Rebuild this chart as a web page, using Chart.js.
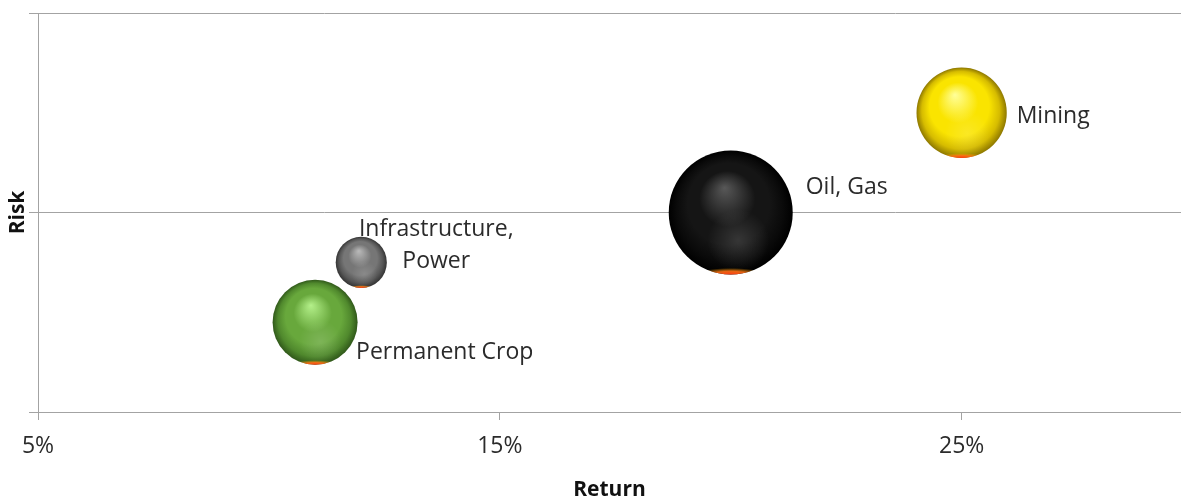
<!DOCTYPE html>
<html>
<head>
<meta charset="utf-8">
<title>Risk vs Return</title>
<script src="https://cdn.jsdelivr.net/npm/chart.js@4/dist/chart.umd.min.js"></script>
<style>
  html, body { margin: 0; padding: 0; background: #ffffff; }
  #wrap { position: relative; width: 1181px; height: 500px; }
</style>
</head>
<body>
<div id="wrap"><canvas id="chart"></canvas></div>
<script>
// Sectors plotted by expected return (x) against risk (y); bubble area ~ size
const categories = ['Mining', 'Oil, Gas', 'Infrastructure, Power', 'Permanent Crop'];
const labelLines = [['Mining'], ['Oil, Gas'], ['Infrastructure,', 'Power'], ['Permanent Crop']];
const returns = [25, 20, 12, 11];          // %
const risks = [15, 10, 7.5, 4.5];          // relative risk
const sizes = [53, 100, 17, 47];           // relative bubble area
const xTicks = [5, 15, 25];                // % tick values on the Return axis

// Sphere palettes: highlight, body, shade, rim
const palettes = [
  { hi: '#ffff9a', body: '#fae400', shade: '#d6bc00', rim: '#8e7800', hx: -0.15, hy: -0.4 },
  { hi: '#585858', body: '#151515', shade: '#0a0a0a', rim: '#000000', hx: -0.1, hy: -0.4 },
  { hi: '#bababa', body: '#767676', shade: '#565656', rim: '#343434', hx: -0.1, hy: -0.45 },
  { hi: '#b4f08a', body: '#68a83c', shade: '#50892d', rim: '#30581a', hx: -0.1, hy: -0.4 }
];

const MAX_RADIUS = 62;
const maxSize = Math.max(...sizes);
const points = returns.map((x, i) => ({
  x: x,
  y: risks[i],
  r: MAX_RADIUS * Math.sqrt(sizes[i] / maxSize)
}));

// Label placement next to each bubble (pixel offsets from bubble centre)
const labelPlacement = [
  { dx: 55, dy: 4, align: 'left' },
  { dx: 75, dy: -25, align: 'left' },
  { dx: 75, dy: -33, align: 'center' },
  { dx: 41, dy: 30, align: 'left' }
];

const GRID = '#a3a3a3';
const TEXT = '#2b2b2b';

function sphereGradient(context) {
  const chart = context.chart;
  const i = context.dataIndex;
  const p = palettes[i] || palettes[0];
  const raw = context.raw;
  if (!chart.scales || !chart.scales.x || !chart.scales.y || !raw) return p.body;
  const x = chart.scales.x.getPixelForValue(raw.x);
  const y = chart.scales.y.getPixelForValue(raw.y);
  const r = raw.r;
  if (![x, y, r].every(Number.isFinite)) return p.body;
  const g = chart.ctx.createRadialGradient(x + p.hx * r, y + p.hy * r, 0, x, y, r);
  g.addColorStop(0, p.hi);
  g.addColorStop(0.45, p.body);
  g.addColorStop(0.66, p.body);
  g.addColorStop(0.86, p.shade);
  g.addColorStop(1, p.rim);
  return g;
}

// Secondary soft reflection and the warm glow along the bottom of each sphere
const sphereLighting = {
  id: 'sphereLighting',
  afterDatasetsDraw(chart) {
    const ctx = chart.ctx;
    const meta = chart.getDatasetMeta(0);
    meta.data.forEach((el) => {
      const x = el.x, y = el.y, r = el.options.radius;
      if (![x, y, r].every(Number.isFinite)) return;
      ctx.save();
      ctx.beginPath();
      ctx.arc(x, y, r, 0, Math.PI * 2);
      ctx.clip();
      const g2 = ctx.createRadialGradient(x + 0.12 * r, y + 0.45 * r, 0, x + 0.12 * r, y + 0.45 * r, 0.5 * r);
      g2.addColorStop(0, 'rgba(255,255,255,0.14)');
      g2.addColorStop(1, 'rgba(255,255,255,0)');
      ctx.fillStyle = g2;
      ctx.fillRect(x - r, y - r, 2 * r, 2 * r);
      ctx.translate(x, y + r);
      ctx.scale(1, 0.19);
      const g3 = ctx.createRadialGradient(0, 0, 0, 0, 0, 0.55 * r);
      g3.addColorStop(0, 'rgba(255,60,20,1)');
      g3.addColorStop(0.5, 'rgba(255,110,20,0.9)');
      g3.addColorStop(1, 'rgba(255,170,0,0)');
      ctx.fillStyle = g3;
      ctx.fillRect(-r, -r, 2 * r, 2 * r);
      ctx.restore();
    });
  }
};

// Category names beside the bubbles
const bubbleLabels = {
  id: 'bubbleLabels',
  afterDatasetsDraw(chart) {
    const ctx = chart.ctx;
    const meta = chart.getDatasetMeta(0);
    ctx.save();
    ctx.font = '23px "Open Sans"';
    ctx.fillStyle = TEXT;
    ctx.textBaseline = 'middle';
    meta.data.forEach((el, i) => {
      const pl = labelPlacement[i];
      ctx.textAlign = pl.align;
      labelLines[i].forEach((line, k) => {
        ctx.fillText(line, el.x + pl.dx, el.y + pl.dy + k * 32);
      });
    });
    ctx.restore();
  }
};

new Chart(document.getElementById('chart'), {
  type: 'bubble',
  data: {
    datasets: [{
      label: 'Sectors',
      data: points,
      backgroundColor: sphereGradient,
      borderWidth: 0,
      hoverBorderWidth: 0,
      clip: false
    }]
  },
  options: {
    responsive: true,
    maintainAspectRatio: false,
    animation: false,
    events: [],
    layout: { autoPadding: false, padding: { top: 13, left: 0, right: 0, bottom: 0 } },
    plugins: {
      legend: { display: false },
      tooltip: { enabled: false }
    },
    scales: {
      x: {
        type: 'linear',
        position: 'bottom',
        min: 5,
        max: 29.75,
        afterBuildTicks(scale) {
          scale.ticks = xTicks.map(v => ({ value: v }));
        },
        afterFit(scale) { scale.height = 88; },
        ticks: {
          callback: v => v + '%',
          font: { family: 'Open Sans', size: 23 },
          color: TEXT,
          padding: 13,
          maxRotation: 0
        },
        grid: {
          drawOnChartArea: false,
          drawTicks: true,
          tickLength: 8,
          color: GRID
        },
        border: { color: GRID, width: 1 },
        title: {
          display: true,
          text: 'Return',
          font: { family: 'Open Sans', size: 21, weight: 'bold', lineHeight: 1 },
          color: '#111',
          padding: { top: 0, bottom: -1 }
        }
      },
      y: {
        type: 'linear',
        min: 0,
        max: 20,
        ticks: { display: false, stepSize: 10 },
        afterFit(scale) { scale.width = 38; },
        grid: {
          drawOnChartArea: true,
          drawTicks: true,
          tickLength: 9,
          color: GRID
        },
        border: { color: GRID, width: 1 },
        title: {
          display: true,
          text: 'Risk',
          font: { family: 'Open Sans', size: 21, weight: 'bold', lineHeight: 1 },
          color: '#111',
          padding: { top: 8, bottom: 0 }
        }
      }
    }
  },
  plugins: [sphereLighting, bubbleLabels]
});
</script>
</body>
</html>
